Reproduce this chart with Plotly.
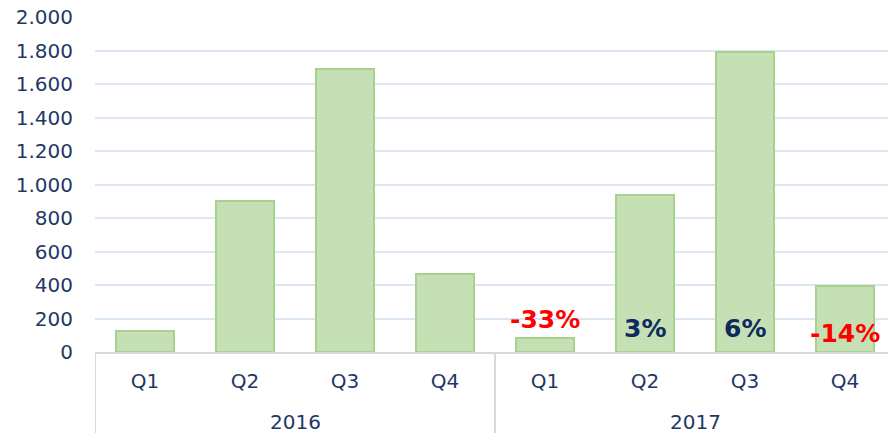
import plotly.graph_objects as go

categories = ["2016 Q1", "2016 Q2", "2016 Q3", "2016 Q4",
              "2017 Q1", "2017 Q2", "2017 Q3", "2017 Q4"]
quarter_labels = ["Q1", "Q2", "Q3", "Q4", "Q1", "Q2", "Q3", "Q4"]
years = ["2016", "2017"]
values = [125, 901, 1690, 466, 84, 937, 1791, 394]
y_ticks = [0, 200, 400, 600, 800, 1000, 1200, 1400, 1600, 1800, 2000]

# year-over-year change labels for 2017
change_cats = ["2017 Q1", "2017 Q2", "2017 Q3", "2017 Q4"]
change_labels = ["-33%", "3%", "6%", "-14%"]
change_y = [197, 143, 143, 113]
change_colors = ["#FF0000", "#0E2A5E", "#0E2A5E", "#FF0000"]

navy = "#1F3864"
font_family = "DejaVu Sans, Verdana, sans-serif"

fig = go.Figure()
fig.add_trace(go.Bar(
    x=categories, y=values, width=0.58,
    marker=dict(color="#C5E0B4", line=dict(color="#A9D18E", width=2)),
    hoverinfo="skip",
))

for c, t, yv, col in zip(change_cats, change_labels, change_y, change_colors):
    fig.add_annotation(x=c, y=yv, text="<b>%s</b>" % t, showarrow=False,
                       font=dict(family=font_family, size=25, color=col),
                       xanchor="center", yanchor="middle")

for i, yr in enumerate(years):
    fig.add_annotation(x=1.5 + 4 * i, xref="x", y=0, yref="paper", yshift=-70,
                       text=yr, showarrow=False, yanchor="middle",
                       font=dict(family=font_family, size=20, color=navy))

for xv in [-0.5, 3.5, 7.5]:
    fig.add_shape(type="line", xref="x", yref="paper", x0=xv, x1=xv, y0=0, y1=-0.3,
                  line=dict(color="#D9D9D9", width=2))

fig.update_layout(
    width=888, height=433,
    margin=dict(l=95, r=0, t=17, b=81, autoexpand=False),
    paper_bgcolor="white", plot_bgcolor="white",
    separators=",.",
    showlegend=False,
    font=dict(family=font_family, size=20, color=navy),
    xaxis=dict(
        type="category", categoryorder="array", categoryarray=categories,
        tickmode="array", tickvals=categories, ticktext=quarter_labels,
        range=[-0.5, 7.43], showgrid=False, showline=True,
        linecolor="#D9D9D9", linewidth=2, ticks="", ticklabelstandoff=10,
        tickfont=dict(family=font_family, size=20, color=navy),
        automargin=False,
    ),
    yaxis=dict(
        range=[0, 2000], tickmode="array", tickvals=y_ticks, tickformat=",d",
        showgrid=True, gridcolor="#DCE6F2", gridwidth=2,
        zeroline=False, showline=False, ticks="", ticklabelstandoff=21,
        tickfont=dict(family=font_family, size=20, color=navy),
        automargin=False,
    ),
)

fig.write_html("out.html", config={"displayModeBar": False},
               post_script="document.body.style.margin='0';")
